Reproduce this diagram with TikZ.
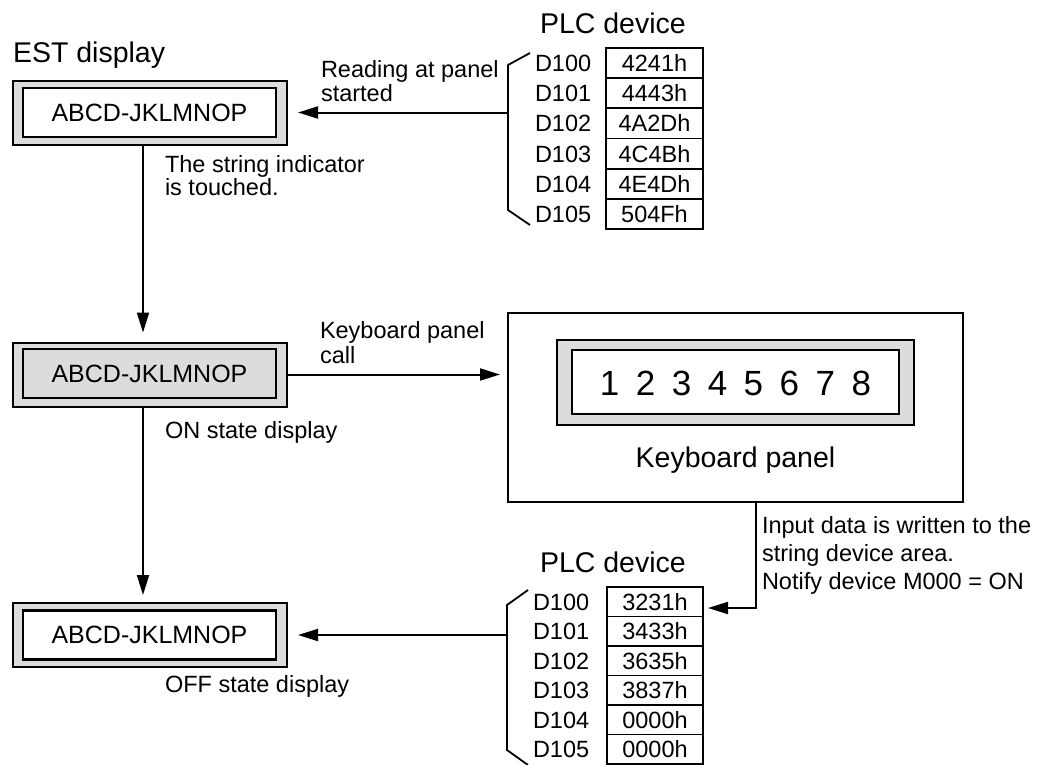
\documentclass[tikz,border=0pt]{standalone}
\usepackage{fontspec}
\setmainfont{Liberation Sans}
\usetikzlibrary{arrows.meta}
\definecolor{panelgray}{HTML}{DCDCDC}
\begin{document}
\begin{tikzpicture}[x=1pt,y=-1pt,
  every node/.style={inner sep=0pt, outer sep=0pt},
  body/.style={font=\fontsize{23.5}{26}\selectfont, anchor=base west},
  head/.style={font=\fontsize{28.5}{32}\selectfont, anchor=base west},
  outerbox/.style={draw, line width=2pt, fill=panelgray, minimum width=274pt, minimum height=64pt},
  innerbox/.style={draw, line width=2.5pt, minimum width=253pt, minimum height=49pt, font=\fontsize{25}{28}\selectfont},
  conn/.style={line width=2pt},
  arr/.style={line width=2pt, -{Triangle[length=20pt,width=12pt]}},
  cell/.style={draw, line width=1.6pt, minimum width=97pt, minimum height=30pt, font=\fontsize{23.5}{26}\selectfont},
  bracket/.style={line width=1.8pt},
]
\useasboundingbox (0,0) rectangle (1049,764);

% ---------- EST displays ----------
\node[head] (esttitle) at (13,62) {EST display};

\node[outerbox] (est1o) at (150,112.5) {};
\node[innerbox, fill=white] (est1) at (149.5,112.5) {ABCD-JKLMNOP};

\node[outerbox] (est2o) at (150,374.5) {};
\node[innerbox, fill=panelgray] (est2) at (149.5,373.5) {ABCD-JKLMNOP};

\node[outerbox] (est3o) at (150,635) {};
\node[innerbox, fill=white] (est3) at (149.5,635) {ABCD-JKLMNOP};

\node[body] (touch1) at (165,172) {The string indicator};
\node[body] (touch2) at (165,195) {is touched.};
\node[body] (onlab) at (165,438) {ON state display};
\node[body] (offlab) at (165,692) {OFF state display};

\coordinate (vx) at (143,0);
\draw[arr, shorten >=10pt] (est1o.south -| vx) -- (est2o.north -| vx);
\draw[arr, shorten >=8pt] (est2o.south -| vx) -- (est3o.north -| vx);

% ---------- Top PLC device ----------
\node[head] (plc1) at (540,33) {PLC device};
\foreach \i/\d/\v in {0/D100/4241h,1/D101/4443h,2/D102/4A2Dh,3/D103/4C4Bh,4/D104/4E4Dh,5/D105/504Fh}{
  \node[cell] (ta\i) at (654.5,{48+30.17*(\i+0.5)}) {\v};
  \node[body] (la\i) at (535,{48+30.17*(\i+0.5)+8.4}) {\d};
}
\coordinate (b1a) at (530,53);
\coordinate (b1b) at (508,65);
\coordinate (b1m) at (508,112.5);
\coordinate (b1c) at (508,210);
\coordinate (b1d) at (530,225);
\draw[bracket] (b1a) -- (b1b) -- (b1c) -- (b1d);
\draw[arr, shorten >=11pt] (b1m) -- (est1o.east);
\node[body] (read1) at (321,77) {Reading at panel};
\node[body] (read2) at (321,101) {started};

% ---------- Keyboard panel ----------
\node[draw, line width=2pt, minimum width=455pt, minimum height=189pt] (kb) at (735.5,407.5) {};
\node[draw, line width=2pt, fill=panelgray, minimum width=357pt, minimum height=85pt] (kdo) at (735.5,382.5) {};
\node[draw, line width=2.5pt, fill=white, minimum width=327pt, minimum height=64pt] (kdi) at (735.5,382) {};
\node[anchor=base, font={\fontsize{35}{40}\selectfont\spaceskip=16.5pt\relax}] (digits) at (735.5,395) {1 2 3 4 5 6 7 8};
\node[head, anchor=base] (kbtitle) at (735.5,467) {Keyboard panel};

\draw[arr, shorten >=8pt] (est2o.east) -- (kb.west |- est2o.east);
\node[body] (call1) at (320,338) {Keyboard panel};
\node[body] (call2) at (320,363) {call};

% ---------- Bottom PLC device ----------
\node[head] (plc2) at (540,572) {PLC device};
\foreach \i/\d/\v in {0/D100/3231h,1/D101/3433h,2/D102/3635h,3/D103/3837h,4/D104/0000h,5/D105/0000h}{
  \node[cell, minimum width=96pt, minimum height=29.5pt] (tb\i) at (655,{587+29.5*(\i+0.5)}) {\v};
  \node[body] (lb\i) at (533,{587+29.5*(\i+0.5)+8.4}) {\d};
}
\coordinate (b2a) at (528,590);
\coordinate (b2b) at (507,605);
\coordinate (b2m) at (507,635);
\coordinate (b2c) at (507,750);
\coordinate (b2d) at (528,765);
\draw[bracket] (b2a) -- (b2b) -- (b2c) -- (b2d);
\draw[arr, shorten >=11pt] (b2m) -- (est3o.east);

\coordinate (kc) at (756,608);
\draw[arr, shorten >=5pt] (kb.south -| kc) -- (kc) -- (kc -| tb0.east);
\node[body] (inp1) at (762,533) {Input data is written to the};
\node[body] (inp2) at (762,561) {string device area.};
\node[body] (inp3) at (762,589) {Notify device M000 = ON};
\end{tikzpicture}
\end{document}
